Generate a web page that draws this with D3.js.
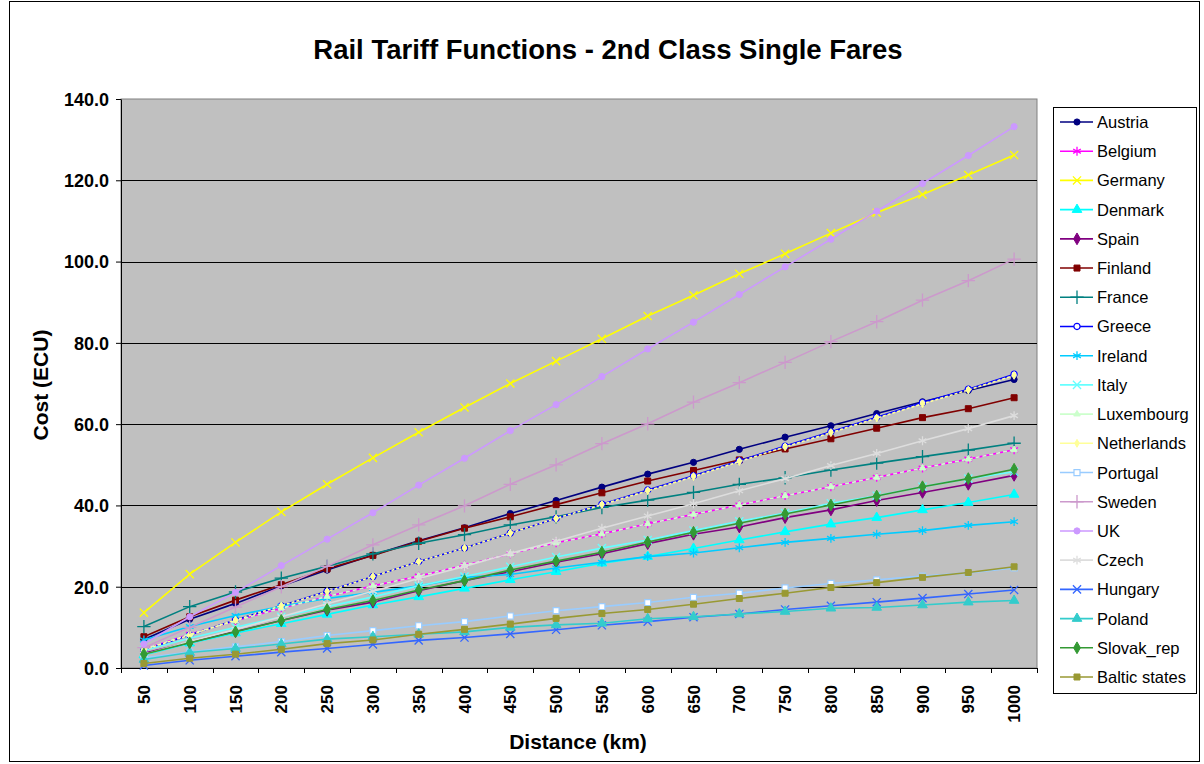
<!DOCTYPE html>
<html>
<head>
<meta charset="utf-8">
<script src="https://cdn.jsdelivr.net/npm/d3@7"></script>
<style>
  html, body { margin: 0; padding: 0; background: #fff; }
  svg { display: block; font-family: Arial, "Liberation Sans", sans-serif; }
</style>
</head>
<body>
<svg id="chart" width="1204" height="764"></svg>
<script>
// Distance categories (km)
const distances = [50,100,150,200,250,300,350,400,450,500,550,600,650,700,750,800,850,900,950,1000];
const yTicks = [0,20,40,60,80,100,120,140];

// Single fare in ECU per country, one value per distance
const austria     = [7.0,12.0,15.9,20.2,24.1,27.8,31.3,34.5,38.0,41.2,44.5,47.7,50.6,53.8,56.8,59.6,62.6,65.5,68.3,71.0];
const belgium     = [4.6,8.3,11.6,14.7,17.6,20.2,22.6,25.3,28.1,30.8,33.0,35.5,37.8,40.1,42.4,44.6,46.9,49.2,51.4,53.7];
const germany     = [13.6,23.1,30.9,38.4,45.2,51.7,58.0,64.1,70.0,75.5,81.0,86.6,91.7,97.0,101.9,107.0,112.0,116.5,121.3,126.2];
const denmark     = [3.2,6.1,8.6,10.9,13.2,15.5,17.5,19.6,21.7,23.7,25.8,27.4,29.4,31.5,33.5,35.4,37.0,38.9,40.7,42.7];
const spain       = [3.6,6.3,9.0,11.7,14.2,16.2,19.0,21.5,23.7,26.0,28.1,30.6,32.9,34.7,37.0,38.9,41.2,43.2,45.2,47.4];
const finland     = [7.7,12.6,16.7,20.5,24.4,27.7,31.2,34.4,37.2,40.2,43.1,46.0,48.6,51.2,53.9,56.4,59.0,61.6,63.8,66.5];
const france      = [10.2,15.1,18.7,22.1,25.0,28.1,30.7,32.8,35.2,37.2,39.5,41.3,43.2,45.2,46.8,48.7,50.4,52.0,53.6,55.3];
const greece      = [4.4,8.1,11.8,15.3,18.9,22.5,26.2,29.5,33.2,36.8,40.3,43.8,47.3,51.0,54.6,58.1,61.7,65.3,68.6,72.3];
const ireland     = [6.9,10.2,12.9,15.2,17.1,18.6,20.2,22.3,23.0,24.6,26.0,27.4,28.3,29.6,30.9,31.9,32.9,33.8,35.1,36.0];
const italy       = [4.3,7.3,10.0,12.6,15.1,17.5,20.2,22.5,24.9,27.3,29.5,31.5,33.8,36.1,38.1,40.5,42.4,44.6,46.6,48.3];
const luxembourg  = [4.6,8.3,11.6,14.7,17.6,20.2,22.6,25.3,28.1,30.8,33.0,35.5,37.8,40.1,42.4,44.6,46.9,49.2,51.4,53.7];
const netherlands = [4.5,8.1,11.8,15.3,18.8,22.5,26.2,29.5,33.2,36.8,40.2,43.6,47.1,50.8,54.4,57.9,61.5,65.0,68.4,72.0];
const portugal    = [2.5,3.9,5.2,6.5,8.0,9.2,10.4,11.4,12.8,14.1,15.1,16.1,17.4,18.4,19.7,20.8,21.7,22.6,23.4,24.6];
const sweden      = [5.0,10.0,15.0,20.0,25.0,30.3,35.2,39.9,45.2,50.0,55.2,60.1,65.4,70.2,75.2,80.3,85.2,90.5,95.3,100.6];
const uk          = [5.9,12.6,18.6,25.2,31.7,38.2,45.0,51.6,58.4,64.8,71.7,78.5,85.1,91.9,98.7,105.5,112.4,119.2,126.1,133.2];
const czech       = [3.3,6.5,9.5,12.6,15.8,18.9,22.0,25.0,28.2,31.2,34.4,37.4,40.4,43.6,46.6,49.8,52.8,55.9,58.9,62.1];
const hungary     = [0.6,1.9,2.9,3.9,4.8,5.8,6.8,7.5,8.4,9.4,10.5,11.4,12.5,13.3,14.4,15.3,16.2,17.2,18.2,19.2];
const poland      = [2.1,3.8,4.8,5.9,7.1,7.7,8.3,8.9,10.0,10.6,11.0,12.1,12.6,13.3,13.9,14.7,14.9,15.5,16.2,16.6];
const slovak      = [3.4,6.2,8.9,11.7,14.4,16.6,19.2,21.5,24.1,26.3,28.5,31.0,33.4,35.6,37.9,40.1,42.3,44.6,46.6,48.9];
const baltic      = [1.1,2.4,3.4,4.6,6.0,6.9,8.3,9.5,10.8,12.2,13.4,14.4,15.7,17.1,18.4,19.8,21.0,22.3,23.5,24.9];

const seriesNames = ["Austria","Belgium","Germany","Denmark","Spain","Finland","France","Greece","Ireland","Italy",
  "Luxembourg","Netherlands","Portugal","Sweden","UK","Czech","Hungary","Poland","Slovak_rep","Baltic states"];
const seriesValues = [austria,belgium,germany,denmark,spain,finland,france,greece,ireland,italy,
  luxembourg,netherlands,portugal,sweden,uk,czech,hungary,poland,slovak,baltic];

// Styling per series: colour, marker shape, marker fill, optional marker size and dash
const styles = {
  "Austria":       {color:"#000080", sym:"circle",   fill:true},
  "Belgium":       {color:"#FF00FF", sym:"asterisk", fill:false},
  "Germany":       {color:"#FFFF00", sym:"times",    fill:false},
  "Denmark":       {color:"#00FFFF", sym:"triangle", fill:true},
  "Spain":         {color:"#800080", sym:"diamond",  fill:true},
  "Finland":       {color:"#800000", sym:"square",   fill:true},
  "France":        {color:"#008080", sym:"plus",     fill:false},
  "Greece":        {color:"#0000FF", sym:"circle",   fill:false},
  "Ireland":       {color:"#00CCFF", sym:"asterisk", fill:false},
  "Italy":         {color:"#66FFFF", sym:"times",    fill:false},
  "Luxembourg":    {color:"#CCFFCC", sym:"triangle", fill:true, size:18, dash:"4,3"},
  "Netherlands":   {color:"#FFFF99", sym:"diamond",  fill:true, size:18, dash:"3,2"},
  "Portugal":      {color:"#99CCFF", sym:"square",   fill:false},
  "Sweden":        {color:"#CC99CC", sym:"plus",     fill:false},
  "UK":            {color:"#CC99FF", sym:"circle",   fill:true},
  "Czech":         {color:"#DDDDDD", sym:"asterisk", fill:false},
  "Hungary":       {color:"#3366FF", sym:"times",    fill:false},
  "Poland":        {color:"#33CCCC", sym:"triangle", fill:true},
  "Slovak_rep":    {color:"#339933", sym:"diamond",  fill:true},
  "Baltic states": {color:"#999933", sym:"square",   fill:true}
};

const svg = d3.select("#chart");

// outer chart frame
svg.append("rect")
  .attr("x", 9.5).attr("y", 1.5).attr("width", 1190).attr("height", 760)
  .attr("fill", "#fff").attr("stroke", "#000").attr("stroke-width", 1);

const plot = {left:121, top:99, right:1037, bottom:668};

const x = d3.scaleBand().domain(distances).range([plot.left, plot.right]);
const y = d3.scaleLinear().domain([0,140]).range([plot.bottom, plot.top]);

// plot area
svg.append("rect")
  .attr("x", plot.left).attr("y", plot.top)
  .attr("width", plot.right - plot.left).attr("height", plot.bottom - plot.top)
  .attr("fill", "#C0C0C0").attr("stroke", "#808080").attr("stroke-width", 1);

// horizontal gridlines
svg.append("g").selectAll("line")
  .data(yTicks.filter(d => d > 0 && d < 140))
  .join("line")
  .attr("x1", plot.left).attr("x2", plot.right)
  .attr("y1", d => Math.round(y(d)) + 0.5).attr("y2", d => Math.round(y(d)) + 0.5)
  .attr("stroke", "#000").attr("stroke-width", 1);

// y axis
const yAxis = svg.append("g")
  .attr("transform", `translate(${plot.left},0)`)
  .call(d3.axisLeft(y).tickValues(yTicks).tickSize(5).tickSizeOuter(0).tickFormat(d3.format(".1f")));
yAxis.select(".domain").attr("stroke", "#000");
yAxis.selectAll("text").attr("font-size", 18).attr("font-weight", "bold").attr("fill", "#000")
  .attr("x", -12).attr("dy", "0.35em");

// x axis: ticks sit on category boundaries
const xAxisG = svg.append("g").attr("transform", `translate(0,${plot.bottom})`);
xAxisG.append("line")
  .attr("x1", plot.left).attr("x2", plot.right).attr("y1", 0.5).attr("y2", 0.5)
  .attr("stroke", "#000");
const bounds = distances.map(d => x(d)).concat([plot.right]);
xAxisG.selectAll("line.tick")
  .data(bounds).join("line").attr("class", "tick")
  .attr("x1", d => Math.round(d) + 0.5).attr("x2", d => Math.round(d) + 0.5)
  .attr("y1", 0).attr("y2", 5).attr("stroke", "#000");
xAxisG.selectAll("text")
  .data(distances).join("text")
  .attr("transform", d => `translate(${x(d) + x.bandwidth()/2 + 6},17) rotate(-90)`)
  .attr("text-anchor", "end")
  .attr("font-size", 17).attr("font-weight", "bold").attr("fill", "#000")
  .text(d => d);

// titles
svg.append("text")
  .attr("x", 608).attr("y", 59).attr("text-anchor", "middle")
  .attr("font-size", 27.5).attr("font-weight", "bold")
  .text("Rail Tariff Functions - 2nd Class Single Fares");
svg.append("text")
  .attr("transform", `translate(48,385) rotate(-90)`)
  .attr("text-anchor", "middle")
  .attr("font-size", 21).attr("font-weight", "bold")
  .text("Cost (ECU)");
svg.append("text")
  .attr("x", 578).attr("y", 749).attr("text-anchor", "middle")
  .attr("font-size", 21).attr("font-weight", "bold")
  .text("Distance (km)");

// marker shapes
const symTypes = {
  circle: d3.symbolCircle, square: d3.symbolSquare, diamond: d3.symbolDiamond,
  triangle: d3.symbolTriangle, plus: d3.symbolPlus, times: d3.symbolTimes, asterisk: d3.symbolAsterisk
};
const symSizes = {circle:30, square:36, diamond:40, triangle:40, plus:60, times:45, asterisk:55};
const strokeOnly = new Set(["plus","times","asterisk"]);

function drawMarker(g, st, tx, ty) {
  const p = d3.symbol().type(symTypes[st.sym]).size(st.size || symSizes[st.sym])();
  const m = g.append("path").attr("d", p).attr("transform", `translate(${tx},${ty})`);
  if (strokeOnly.has(st.sym)) {
    m.attr("fill", "none").attr("stroke", st.color).attr("stroke-width", 1.3);
  } else if (st.fill) {
    m.attr("fill", st.color).attr("stroke", st.color).attr("stroke-width", 1);
  } else {
    m.attr("fill", "#fff").attr("stroke", st.color).attr("stroke-width", 1.2);
  }
}

const line = d3.line()
  .x((d, i) => x(distances[i]) + x.bandwidth()/2)
  .y(d => y(d));

const seriesG = svg.append("g");
seriesNames.forEach((name, k) => {
  const st = styles[name];
  const vals = seriesValues[k];
  const g = seriesG.append("g");
  g.append("path").attr("d", line(vals))
    .attr("fill", "none").attr("stroke", st.color).attr("stroke-width", 1.6)
    .attr("stroke-dasharray", st.dash || null);
  vals.forEach((v, i) => drawMarker(g, st, x(distances[i]) + x.bandwidth()/2, y(v)));
});

// legend
const lg = svg.append("g");
lg.append("rect")
  .attr("x", 1053.5).attr("y", 107.5).attr("width", 143).attr("height", 586)
  .attr("fill", "#fff").attr("stroke", "#000");
const ly = d3.scalePoint().domain(seriesNames).range([122, 677]);
seriesNames.forEach(name => {
  const st = styles[name];
  const yy = ly(name);
  lg.append("line").attr("x1", 1060).attr("x2", 1093).attr("y1", yy).attr("y2", yy)
    .attr("stroke", st.color).attr("stroke-width", 1.6);
  drawMarker(lg, st, 1077, yy);
  lg.append("text").attr("x", 1097).attr("y", yy + 6)
    .attr("font-size", 16.5).attr("fill", "#000").text(name);
});
</script>
</body>
</html>
